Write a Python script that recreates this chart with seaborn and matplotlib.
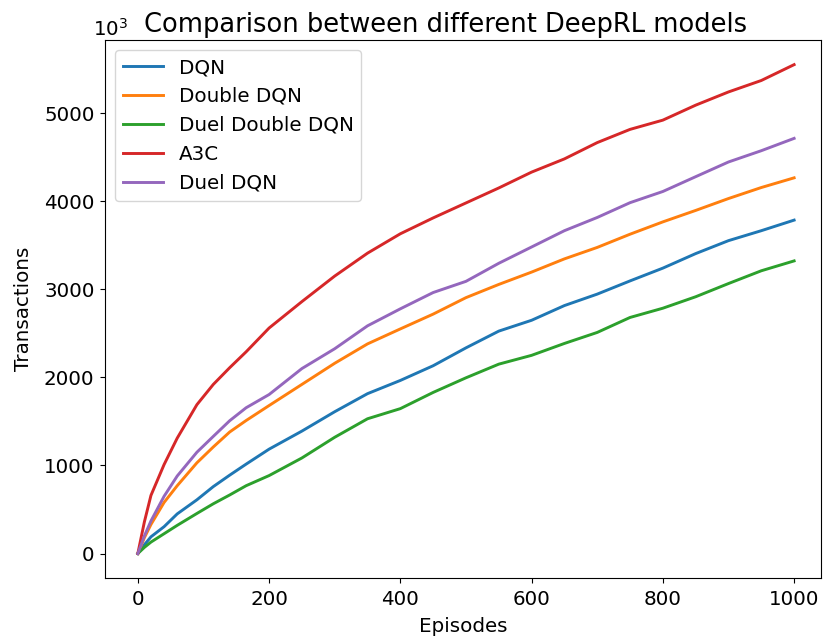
import numpy as np
import pandas as pd
import matplotlib
matplotlib.use('Agg')
import matplotlib.pyplot as plt
import seaborn as sns

# values (transactions vs episodes)
episodes = [0, 10, 20, 40, 60, 90, 115, 140, 165, 200, 250, 300, 350, 400, 450,
            500, 550, 600, 650, 700, 750, 800, 850, 900, 950, 1000]

dqn = [0, 100, 190, 305, 450, 610, 760, 890, 1015, 1185, 1390, 1610, 1815, 1965, 2132,
       2335, 2525, 2648, 2815, 2945, 3095, 3240, 3405, 3552, 3665, 3785]
double_dqn = [0, 180, 330, 580, 770, 1030, 1210, 1380, 1510, 1680, 1920, 2160, 2380, 2550, 2718,
              2905, 3055, 3195, 3345, 3475, 3625, 3765, 3895, 4030, 4155, 4265]
duel_double_dqn = [0, 70, 130, 225, 320, 455, 565, 665, 770, 885, 1085, 1320, 1530, 1645, 1829,
                   1995, 2150, 2250, 2385, 2510, 2680, 2785, 2915, 3065, 3210, 3322]
a3c = [0, 360, 660, 1010, 1310, 1690, 1920, 2110, 2290, 2560, 2860, 3150, 3410, 3630, 3810,
       3980, 4150, 4330, 4480, 4665, 4815, 4920, 5090, 5240, 5370, 5550]
duel_dqn = [0, 200, 370, 650, 880, 1150, 1330, 1508, 1655, 1805, 2100, 2325, 2585, 2778, 2963,
            3090, 3295, 3480, 3665, 3815, 3983, 4110, 4278, 4445, 4573, 4713]

models = ['DQN', 'Double DQN', 'Duel Double DQN', 'A3C', 'Duel DQN']
series = [dqn, double_dqn, duel_double_dqn, a3c, duel_dqn]

frames = []
for name, vals in zip(models, series):
    frames.append(pd.DataFrame({'Episodes': episodes, 'Transactions': vals, 'model': name}))
df = pd.concat(frames, ignore_index=True)

plt.rcParams['font.family'] = ['DejaVu Sans']
plt.rcParams['font.size'] = 14.3
plt.rcParams['xtick.major.pad'] = 5
plt.rcParams['ytick.major.pad'] = 4

fig = plt.figure(figsize=(8.23, 6.41), dpi=100)
ax = fig.add_axes([0.1276, 0.0983, 0.870, 0.839])

sns.lineplot(data=df, x='Episodes', y='Transactions', hue='model', hue_order=models,
             palette=sns.color_palette('tab10', 5), linewidth=2.1, ax=ax)

ax.set_title('Comparison between different DeepRL models', fontsize=18.5, x=0.476)
ax.set_xlabel('Episodes', labelpad=6)
ax.set_ylabel('Transactions', labelpad=8)
ax.set_xticks([0, 200, 400, 600, 800, 1000])
ax.set_yticks([0, 1000, 2000, 3000, 4000, 5000])
ax.set_xlim(-50, 1041)
ax.margins(y=0.05)
ax.text(-0.017, 1.0, r'$10^3$', transform=ax.transAxes, ha='left', va='bottom', fontsize=14.3)

leg = ax.legend(loc='upper left', title=None)
for line in leg.get_lines():
    line.set_linewidth(2.1)

fig.savefig('out.png', dpi=100)
